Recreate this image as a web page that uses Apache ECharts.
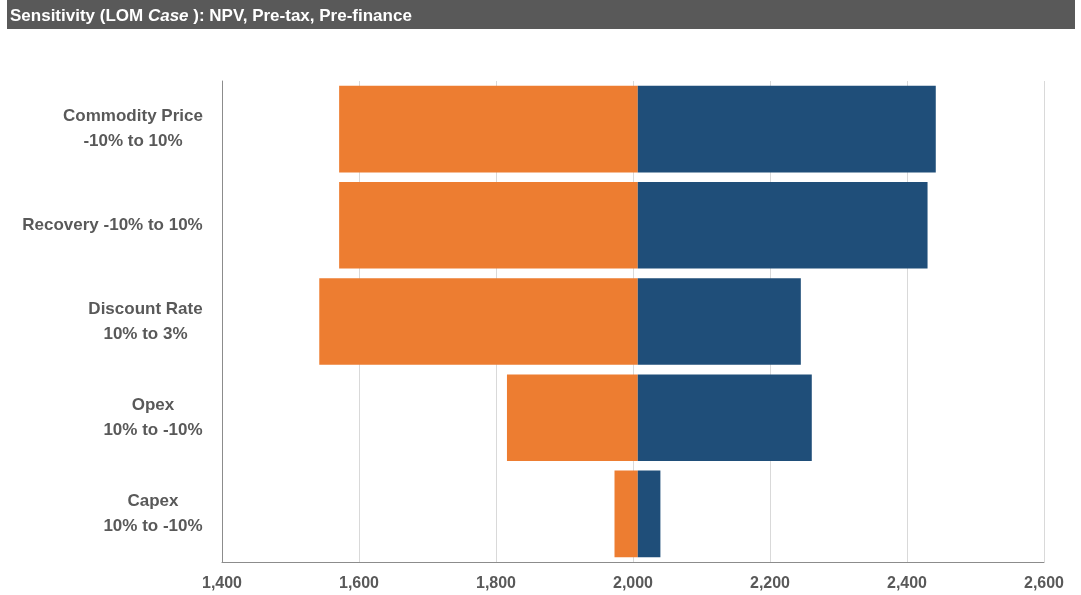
<!DOCTYPE html>
<html>
<head>
<meta charset="utf-8">
<script src="https://cdn.jsdelivr.net/npm/echarts@6/dist/echarts.min.js"></script>
<style>
  html, body { margin: 0; padding: 0; background: #ffffff; }
  #chart { width: 1081px; height: 595px; }
</style>
</head>
<body>
<div id="chart"></div>
<script>
// Tornado chart: NPV sensitivity around the base case
const categories = [
  'Commodity Price\n-10% to 10%',
  'Recovery -10% to 10%',
  'Discount Rate\n10% to 3%',
  'Opex\n10% to -10%',
  'Capex\n10% to -10%'
];
const baseNpv = 2007;
const lowCase = [1571, 1571, 1542, 1816, 1973];
const highCase = [2442, 2430, 2245, 2261, 2040];
const xTicks = { min: 1400, max: 2600, step: 200 };

// stacked segments: invisible offset, downside (to base), upside (from base)
const offset = lowCase.map(v => v);
const downside = lowCase.map(v => baseNpv - v);
const upside = highCase.map(v => v - baseNpv);

const FONT = '"Liberation Sans", Arial, sans-serif';
const LABEL_SIZE = 17;

// measure label lines so each multi-line label is centred as a block
const ctx = document.createElement('canvas').getContext('2d');
ctx.font = 'bold ' + LABEL_SIZE + 'px ' + FONT;
function blockLabel(text) {
  const lines = text.split('\n');
  const w = Math.ceil(Math.max(...lines.map(l => ctx.measureText(l).width)));
  return lines.map(l => '{c' + w + '|' + l + '}').join('\n');
}
const labelRich = {};
categories.forEach(t => {
  const lines = t.split('\n');
  const w = Math.ceil(Math.max(...lines.map(l => ctx.measureText(l).width)));
  labelRich['c' + w] = {
    width: w,
    align: 'center',
    color: '#595959',
    fontFamily: FONT,
    fontSize: LABEL_SIZE,
    fontWeight: 'bold',
    lineHeight: 25
  };
});

const chart = echarts.init(document.getElementById('chart'), null, { renderer: 'canvas' });

chart.setOption({
  animation: false,
  backgroundColor: '#ffffff',
  graphic: [
    {
      type: 'rect',
      shape: { x: 7, y: 0, width: 1068, height: 29 },
      style: { fill: '#595959' },
      z: 0
    },
    {
      type: 'text',
      x: 10,
      y: 16,
      style: {
        text: '{n|Sensitivity (LOM }{i|Case}{n| ): NPV, Pre-tax, Pre-finance}',
        verticalAlign: 'middle',
        rich: {
          n: { fontFamily: FONT, fontSize: 17, fontWeight: 'bold', fill: '#ffffff' },
          i: { fontFamily: FONT, fontSize: 17, fontWeight: 'bold', fontStyle: 'italic', fill: '#ffffff' }
        }
      },
      z: 1
    }
  ],
  grid: { left: 222, right: 37, top: 81, bottom: 33, containLabel: false },
  xAxis: {
    type: 'value',
    min: xTicks.min,
    max: xTicks.max,
    interval: xTicks.step,
    axisLine: { show: true, lineStyle: { color: '#8c8c8c', width: 1 } },
    axisTick: { show: false },
    splitLine: { show: true, lineStyle: { color: '#d9d9d9', width: 1 } },
    axisLabel: {
      margin: 14,
      color: '#595959',
      fontFamily: FONT,
      fontSize: 16,
      fontWeight: 'bold',
      formatter: v => v.toLocaleString('en-US')
    }
  },
  yAxis: {
    type: 'category',
    inverse: true,
    data: categories,
    axisLine: { show: true, lineStyle: { color: '#8c8c8c', width: 1 } },
    axisTick: { show: false },
    splitLine: { show: false },
    axisLabel: {
      margin: 19,
      color: '#595959',
      fontFamily: FONT,
      fontSize: LABEL_SIZE,
      fontWeight: 'bold',
      lineHeight: 25,
      align: 'right',
      formatter: v => blockLabel(v),
      rich: labelRich
    }
  },
  series: [
    {
      name: 'offset',
      type: 'bar',
      stack: 'npv',
      data: offset,
      itemStyle: { color: 'rgba(0,0,0,0)' },
      barCategoryGap: '10%',
      silent: true
    },
    {
      name: 'Downside',
      type: 'bar',
      stack: 'npv',
      data: downside,
      itemStyle: { color: '#ED7D31' },
      barCategoryGap: '10%'
    },
    {
      name: 'Upside',
      type: 'bar',
      stack: 'npv',
      data: upside,
      itemStyle: { color: '#1F4E79' },
      barCategoryGap: '10%'
    }
  ]
});
</script>
</body>
</html>
